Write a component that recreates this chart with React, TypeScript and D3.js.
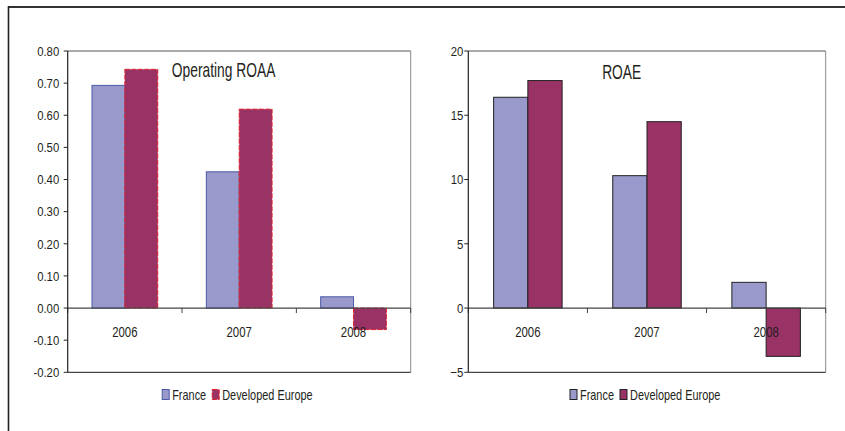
import React from "react";
import * as d3 from "d3";

const categories = ["2006", "2007", "2008"];
const seriesNames = ["France", "Developed Europe"];
const roaaFrance = [0.693, 0.424, 0.035];
const roaaEurope = [0.743, 0.619, -0.067];
const roaeFrance = [16.4, 10.3, 2.0];
const roaeEurope = [17.7, 14.5, -3.76];
const roaaTicks = [-0.2, -0.1, 0, 0.1, 0.2, 0.3, 0.4, 0.5, 0.6, 0.7, 0.8];
const roaeTicks = [-5, 0, 5, 10, 15, 20];

const FR_FILL = "#9999cc";
const DE_FILL = "#993366";
const TEXT = "#231f20";
const FONT = "'Liberation Sans', Arial, sans-serif";

type CT = {
  x: number;
  y: number;
  size: number;
  sx: number;
  anchor?: "start" | "middle" | "end";
  children: React.ReactNode;
};
function CText({ x, y, size, sx, anchor = "start", children }: CT) {
  return (
    <text
      transform={`translate(${x},${y}) scale(${sx},1)`}
      textAnchor={anchor}
      fontSize={size}
      fontFamily={FONT}
      fill={TEXT}
    >
      {children}
    </text>
  );
}

type PanelProps = {
  left: number;
  right: number;
  top: number;
  bottom: number;
  domain: [number, number];
  ticks: number[];
  fmt: (v: number) => string;
  france: number[];
  europe: number[];
  title: string;
  titleX: number;
  titleY: number;
  labelGap: number;
  styled: "roaa" | "roae";
};

function Panel(p: PanelProps) {
  const y = d3.scaleLinear().domain(p.domain).range([p.bottom, p.top]);
  const x = d3.scaleBand<string>().domain(categories).range([p.left, p.right]).paddingInner(0).paddingOuter(0);
  const bw = x.bandwidth();
  const groupW = bw * 0.575;
  const inner = d3.scaleBand<number>().domain([0, 1]).range([0, groupW]).padding(0);
  const y0 = y(0);
  const series = [p.france, p.europe];
  const frStroke = p.styled === "roaa" ? "#4a5aa8" : "#222";
  const deStroke = p.styled === "roaa" ? "#e3202c" : "#222";
  const deDash = p.styled === "roaa" ? "5,1.5" : undefined;
  const cx = (p.left + p.right) / 2;
  const boundaries = categories.map((c) => x(c)!).concat([p.right]);

  const legY = 389.5;
  const sqW = 7;
  const sqH = 10;
  const legendItems = [
    { name: seriesNames[0], fill: FR_FILL, stroke: frStroke, dash: undefined as string | undefined, w: 34 },
    { name: seriesNames[1], fill: DE_FILL, stroke: deStroke, dash: deDash, w: 92 },
  ];
  const totalW = sqW + 3 + 34 + 6 + sqW + 3 + 92;
  let lx = cx - totalW / 2 - 1;

  return (
    <g>
      <line x1={p.left} x2={p.right} y1={p.top} y2={p.top} stroke="#555" strokeWidth={1.2} />
      <line x1={p.right} x2={p.right} y1={p.top} y2={p.bottom} stroke="#8a8a8a" strokeWidth={1} />
      <line x1={p.left} x2={p.right} y1={p.bottom} y2={p.bottom} stroke="#444" strokeWidth={1.2} />

      {categories.map((c, i) =>
        series.map((s, k) => {
          const v = s[i];
          const bx = x(c)! + (bw - groupW) / 2 + inner(k)!;
          const top = Math.min(y(v), y0);
          const h = Math.abs(y(v) - y0);
          return (
            <rect
              key={c + k}
              x={bx}
              y={top}
              width={inner.bandwidth()}
              height={h}
              fill={k === 0 ? FR_FILL : DE_FILL}
              stroke={k === 0 ? frStroke : deStroke}
              strokeWidth={1}
              strokeDasharray={k === 1 ? deDash : undefined}
            />
          );
        })
      )}

      <line x1={p.left} x2={p.right} y1={y0} y2={y0} stroke="#444" strokeWidth={1.2} />
      {boundaries.map((bx, i) => (
        <line key={i} x1={bx} x2={bx} y1={y0} y2={y0 + 5} stroke="#444" strokeWidth={1} />
      ))}

      <line x1={p.left} x2={p.left} y1={p.top} y2={p.bottom} stroke="#222" strokeWidth={1.2} />
      {p.ticks.map((t) => (
        <g key={t}>
          <line x1={p.left - 4} x2={p.left} y1={y(t)} y2={y(t)} stroke="#222" strokeWidth={1} />
          <CText x={p.left - p.labelGap} y={y(t) + 4.8} size={13.5} sx={0.84} anchor="end">
            {p.fmt(t)}
          </CText>
        </g>
      ))}

      {categories.map((c) => (
        <CText key={c} x={x(c)! + bw / 2} y={y0 + 28.5} size={15} sx={0.76} anchor="middle">
          {c}
        </CText>
      ))}

      <CText x={p.titleX} y={p.titleY} size={20} sx={0.69} anchor="middle">
        {p.title}
      </CText>

      {legendItems.map((it, i) => {
        const sx0 = lx;
        lx += sqW + 3 + it.w + 6;
        return (
          <g key={i}>
            <rect
              x={sx0}
              y={legY}
              width={sqW}
              height={sqH}
              fill={it.fill}
              stroke={it.stroke}
              strokeWidth={1}
              strokeDasharray={it.dash}
            />
            <CText x={sx0 + sqW + 3} y={legY + 10} size={14} sx={0.78}>
              {it.name}
            </CText>
          </g>
        );
      })}
    </g>
  );
}

export default function App() {
  return (
    <svg
      width={845}
      height={431}
      style={{ position: "absolute", left: 0, top: 0, display: "block", background: "#fff" }}
    >
      <rect x={0} y={0} width={845} height={431} fill="#fff" />
      <line x1={8} x2={845} y1={7} y2={7} stroke="#333" strokeWidth={2} />
      <line x1={8.5} x2={8.5} y1={6} y2={431} stroke="#222" strokeWidth={1.6} />

      <Panel
        left={67.7}
        right={410.7}
        top={51}
        bottom={372.3}
        domain={[-0.2, 0.8]}
        ticks={roaaTicks}
        fmt={(v) => v.toFixed(2)}
        france={roaaFrance}
        europe={roaaEurope}
        title="Operating ROAA"
        titleX={223.6}
        titleY={77}
        labelGap={8.5}
        styled="roaa"
      />
      <Panel
        left={468.3}
        right={825.7}
        top={51}
        bottom={372.3}
        domain={[-5, 20]}
        ticks={roaeTicks}
        fmt={(v) => d3.format("d")(v)}
        france={roaeFrance}
        europe={roaeEurope}
        title="ROAE"
        titleX={621.7}
        titleY={79}
        labelGap={5}
        styled="roae"
      />
    </svg>
  );
}
